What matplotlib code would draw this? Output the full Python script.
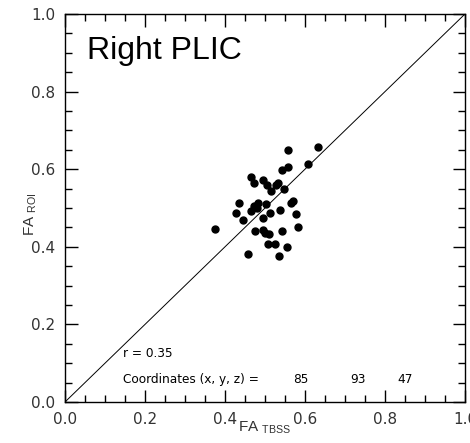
import numpy as np
import matplotlib.pyplot as plt
from matplotlib.ticker import MultipleLocator

# FA values
fa_tbss = [0.558, 0.633, 0.558, 0.542, 0.608, 0.465, 0.473, 0.496, 0.504, 0.527,
           0.532, 0.514, 0.548, 0.436, 0.483, 0.503, 0.571, 0.565, 0.473, 0.479,
           0.427, 0.464, 0.513, 0.538, 0.496, 0.446, 0.577, 0.375, 0.475, 0.496,
           0.500, 0.510, 0.542, 0.582, 0.507, 0.525, 0.554, 0.458, 0.535]
fa_roi = [0.650, 0.656, 0.606, 0.598, 0.613, 0.580, 0.564, 0.571, 0.559, 0.559,
          0.565, 0.544, 0.549, 0.514, 0.514, 0.511, 0.519, 0.513, 0.505, 0.499,
          0.486, 0.491, 0.486, 0.494, 0.475, 0.470, 0.484, 0.446, 0.441, 0.443,
          0.435, 0.432, 0.441, 0.450, 0.406, 0.406, 0.400, 0.382, 0.376]
r_value = 0.35
coords = [85, 93, 47]
title = "Right PLIC"

fig = plt.figure(figsize=(4.70, 4.43), dpi=100)
ax = fig.add_axes([65/470, 1 - 402/443, 400/470, 388/443])

ax.plot([0, 1], [0, 1], color='black', lw=0.7)
ax.plot(fa_tbss, fa_roi, 'o', color='black', ms=5, mec='black')

ax.set_xlim(0, 1)
ax.set_ylim(0, 1)
ax.xaxis.set_major_locator(MultipleLocator(0.2))
ax.yaxis.set_major_locator(MultipleLocator(0.2))
ax.xaxis.set_minor_locator(MultipleLocator(0.05))
ax.yaxis.set_minor_locator(MultipleLocator(0.05))
ax.xaxis.set_major_formatter(lambda v, p: f'{v:.1f}')
ax.yaxis.set_major_formatter(lambda v, p: f'{v:.1f}')
ax.tick_params(which='both', direction='in', top=True, right=True, width=1.0,
               labelsize=11, labelcolor='#333333', pad=7)
ax.tick_params(which='major', length=9)
ax.tick_params(which='minor', length=5)
for s in ax.spines.values():
    s.set_linewidth(1.0)

# axis labels with lowered subscripts, placed like the reference
fig.text(265/470, 1 - 428/443, r'FA $_{\mathregular{TBSS}}$', fontsize=11,
         family='Liberation Sans', color='#333333', ha='center', va='center')
fig.text(31/470, 1 - 214/443, r'FA $_{\mathregular{ROI}}$', fontsize=11,
         family='Liberation Sans', color='#333333', ha='center', va='center',
         rotation=90)

ax.text(0.055, 0.885, title, fontsize=23, family='Liberation Sans',
        transform=ax.transAxes)
ax.text(0.145, 0.115, f'r = {r_value}', fontsize=8.7, family='DejaVu Sans',
        transform=ax.transAxes)
ax.text(0.145, 0.05, 'Coordinates (x, y, z) =', fontsize=8.7, family='DejaVu Sans',
        transform=ax.transAxes)
for xv, c in zip([0.57, 0.712, 0.83], coords):
    ax.text(xv, 0.05, str(c), fontsize=8.7, family='DejaVu Sans',
            transform=ax.transAxes)

fig.savefig('out.png', dpi=100)
